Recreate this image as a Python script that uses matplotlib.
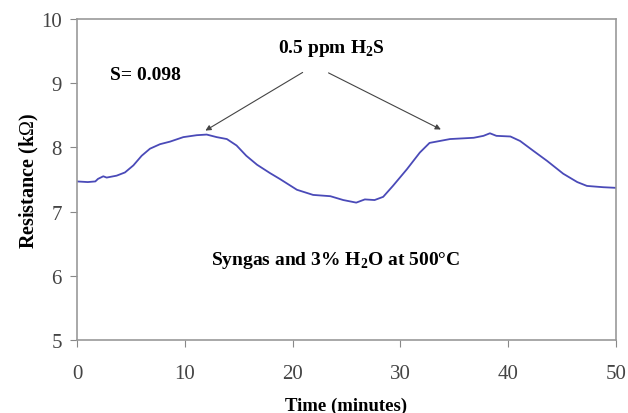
import matplotlib.pyplot as plt

# sensor response
time_min = [0.0, 1.0, 1.7, 1.95, 2.44, 2.75, 3.68, 4.45, 5.23, 6.0, 6.77, 7.7, 8.63, 9.86,
            11.1, 12.03, 12.96, 13.9, 14.8, 15.7, 16.7, 17.9, 18.8, 20.4, 21.9, 23.5,
            24.7, 25.9, 26.7, 27.6, 28.4, 29.3, 30.6, 31.8, 32.7, 34.6, 36.8, 37.7,
            38.3, 38.9, 40.2, 41.1, 42.3, 43.6, 45.1, 46.4, 47.3, 48.8, 50.0]
resistance = [7.47, 7.46, 7.47, 7.51, 7.55, 7.53, 7.56, 7.61, 7.72, 7.87, 7.98, 8.05, 8.09, 8.16,
              8.19, 8.20, 8.16, 8.13, 8.03, 7.87, 7.73, 7.60, 7.51, 7.34, 7.26, 7.24,
              7.18, 7.14, 7.19, 7.18, 7.23, 7.40, 7.66, 7.92, 8.07, 8.13, 8.15, 8.18,
              8.22, 8.18, 8.17, 8.10, 7.95, 7.79, 7.59, 7.46, 7.40, 7.38, 7.37]

x_ticks = [0, 10, 20, 30, 40, 50]
y_ticks = [5, 6, 7, 8, 9, 10]

plt.rcParams['font.family'] = ['Liberation Serif', 'DejaVu Serif']
plt.rcParams['mathtext.fontset'] = 'custom'
plt.rcParams['mathtext.rm'] = 'Liberation Serif'
plt.rcParams['mathtext.bf'] = 'Liberation Serif:bold'

fig = plt.figure(figsize=(6.28, 4.14), dpi=100)
ax = fig.add_axes([0.1226, 0.1763, 0.8584, 0.7754])

ax.plot(time_min, resistance, color='#4a4ab8', linewidth=1.3)

ax.set_xlim(0, 50)
ax.set_ylim(5, 10)
ax.set_xticks(x_ticks)
ax.set_yticks(y_ticks)
ax.tick_params(axis='both', labelsize=15, colors='#888888', labelcolor='#444444', length=5)
ax.tick_params(axis='x', pad=12)
ax.tick_params(axis='y', pad=6)
for sp in ax.spines.values():
    sp.set_color('#999999')
    sp.set_linewidth(1.2)

ax.set_xlabel('Time (minutes)', fontsize=13.5, fontweight='bold', labelpad=10)
ax.set_ylabel('Resistance (k$\\Omega$)', fontsize=14.5, fontweight='bold', labelpad=0)

ax.text(3.1, 9.14, 'S= 0.098', fontsize=14, fontweight='bold', va='center')
ax.text(23.6, 9.56, '0.5 ppm H$_\\mathbf{2}$S', fontsize=14, fontweight='bold',
        ha='center', va='center')
ax.text(24.0, 6.26, 'Syngas and 3% H$_\\mathbf{2}$O at 500°C', fontsize=14,
        fontweight='bold', ha='center', va='center')

arrow = dict(arrowstyle='-|>', color='#444444', linewidth=0.8, mutation_scale=8)
ax.annotate('', xy=(11.69, 8.24), xytext=(21.15, 9.19), arrowprops=arrow)
ax.annotate('', xy=(33.98, 8.26), xytext=(23.1, 9.18), arrowprops=arrow)

fig.savefig('out.png', dpi=100)
